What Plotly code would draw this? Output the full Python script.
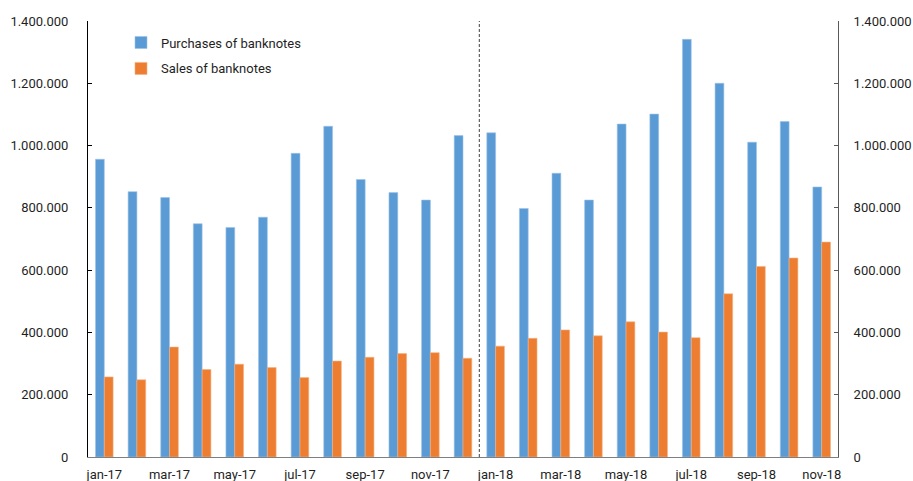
import plotly.graph_objects as go

months = ["jan-17", "feb-17", "mar-17", "apr-17", "may-17", "jun-17", "jul-17", "aug-17",
          "sep-17", "oct-17", "nov-17", "dec-17", "jan-18", "feb-18", "mar-18", "apr-18",
          "may-18", "jun-18", "jul-18", "aug-18", "sep-18", "oct-18", "nov-18"]

purchases = [956000, 852000, 833000, 749000, 737000, 770000, 975000, 1062000,
             891000, 849000, 825000, 1032000, 1041000, 798000, 911000, 825000,
             1069000, 1101000, 1341000, 1200000, 1011000, 1077000, 867000]

sales = [257000, 248000, 353000, 281000, 298000, 287000, 255000, 308000,
         320000, 332000, 335000, 317000, 356000, 381000, 408000, 389000,
         434000, 401000, 383000, 524000, 612000, 639000, 690000]

tick_months = months[::2]
y_ticks = [0, 200000, 400000, 600000, 800000, 1000000, 1200000, 1400000]

BLUE = "#5B9BD5"
ORANGE = "#ED7D31"
FONT = dict(family="Roboto", size=13, color="#1f1f1f")

fig = go.Figure()
fig.add_trace(go.Bar(x=months, y=purchases, name="Purchases of banknotes", legendgroup="p",
                     marker=dict(color=BLUE, line=dict(color="#9CC3E6", width=0.6))))
fig.add_trace(go.Bar(x=months, y=sales, name="Sales of banknotes", legendgroup="s",
                     marker=dict(color=ORANGE, line=dict(color="#F4B183", width=0.6))))
# carrier trace so the right-hand axis is drawn
fig.add_trace(go.Scatter(x=[months[0]], y=[0], yaxis="y2", mode="markers",
                         marker=dict(opacity=0, size=1), showlegend=False, hoverinfo="skip"))

# separator between 2017 and 2018
fig.add_shape(type="line", xref="x", yref="paper", x0=11.5, x1=11.5, y0=0, y1=1,
              line=dict(color="#404040", width=1, dash="3px,2px"))

fig.update_layout(
    width=913, height=481,
    margin=dict(l=88, r=75, t=21, b=24, pad=0, autoexpand=False),
    paper_bgcolor="white", plot_bgcolor="white",
    font=FONT,
    separators=",.",
    barmode="group", bargap=0.46, bargroupgap=0,
    showlegend=True,
    legend=dict(x=0.044, y=0.985, xanchor="left", yanchor="top",
                bgcolor="rgba(0,0,0,0)", font=FONT,
                itemwidth=30, tracegroupgap=6),
    xaxis=dict(type="category", categoryorder="array", categoryarray=months,
               range=[-0.5, len(months) - 0.5], autorange=False,
               tickmode="array", tickvals=tick_months, ticktext=tick_months,
               showline=True, linecolor="#7f7f7f", linewidth=1, ticks="",
               showgrid=False, zeroline=False, ticklabelstandoff=5, automargin=False),
    yaxis=dict(range=[0, 1400000], tickmode="array", tickvals=y_ticks, tickformat=",d",
               showline=True, linecolor="#000000", linewidth=1, ticks="inside",
               ticklen=4, tickcolor="#000000", showgrid=False, zeroline=False,
               ticklabelstandoff=16, automargin=False),
    yaxis2=dict(range=[0, 1400000], overlaying="y", side="right", tickmode="array",
                tickvals=y_ticks, tickformat=",d", showline=True, linecolor="#595959",
                linewidth=1, ticks="inside", ticklen=4, tickcolor="#595959",
                showgrid=False, zeroline=False, ticklabelstandoff=12, automargin=False),
)

fig.write_html("out.html")
